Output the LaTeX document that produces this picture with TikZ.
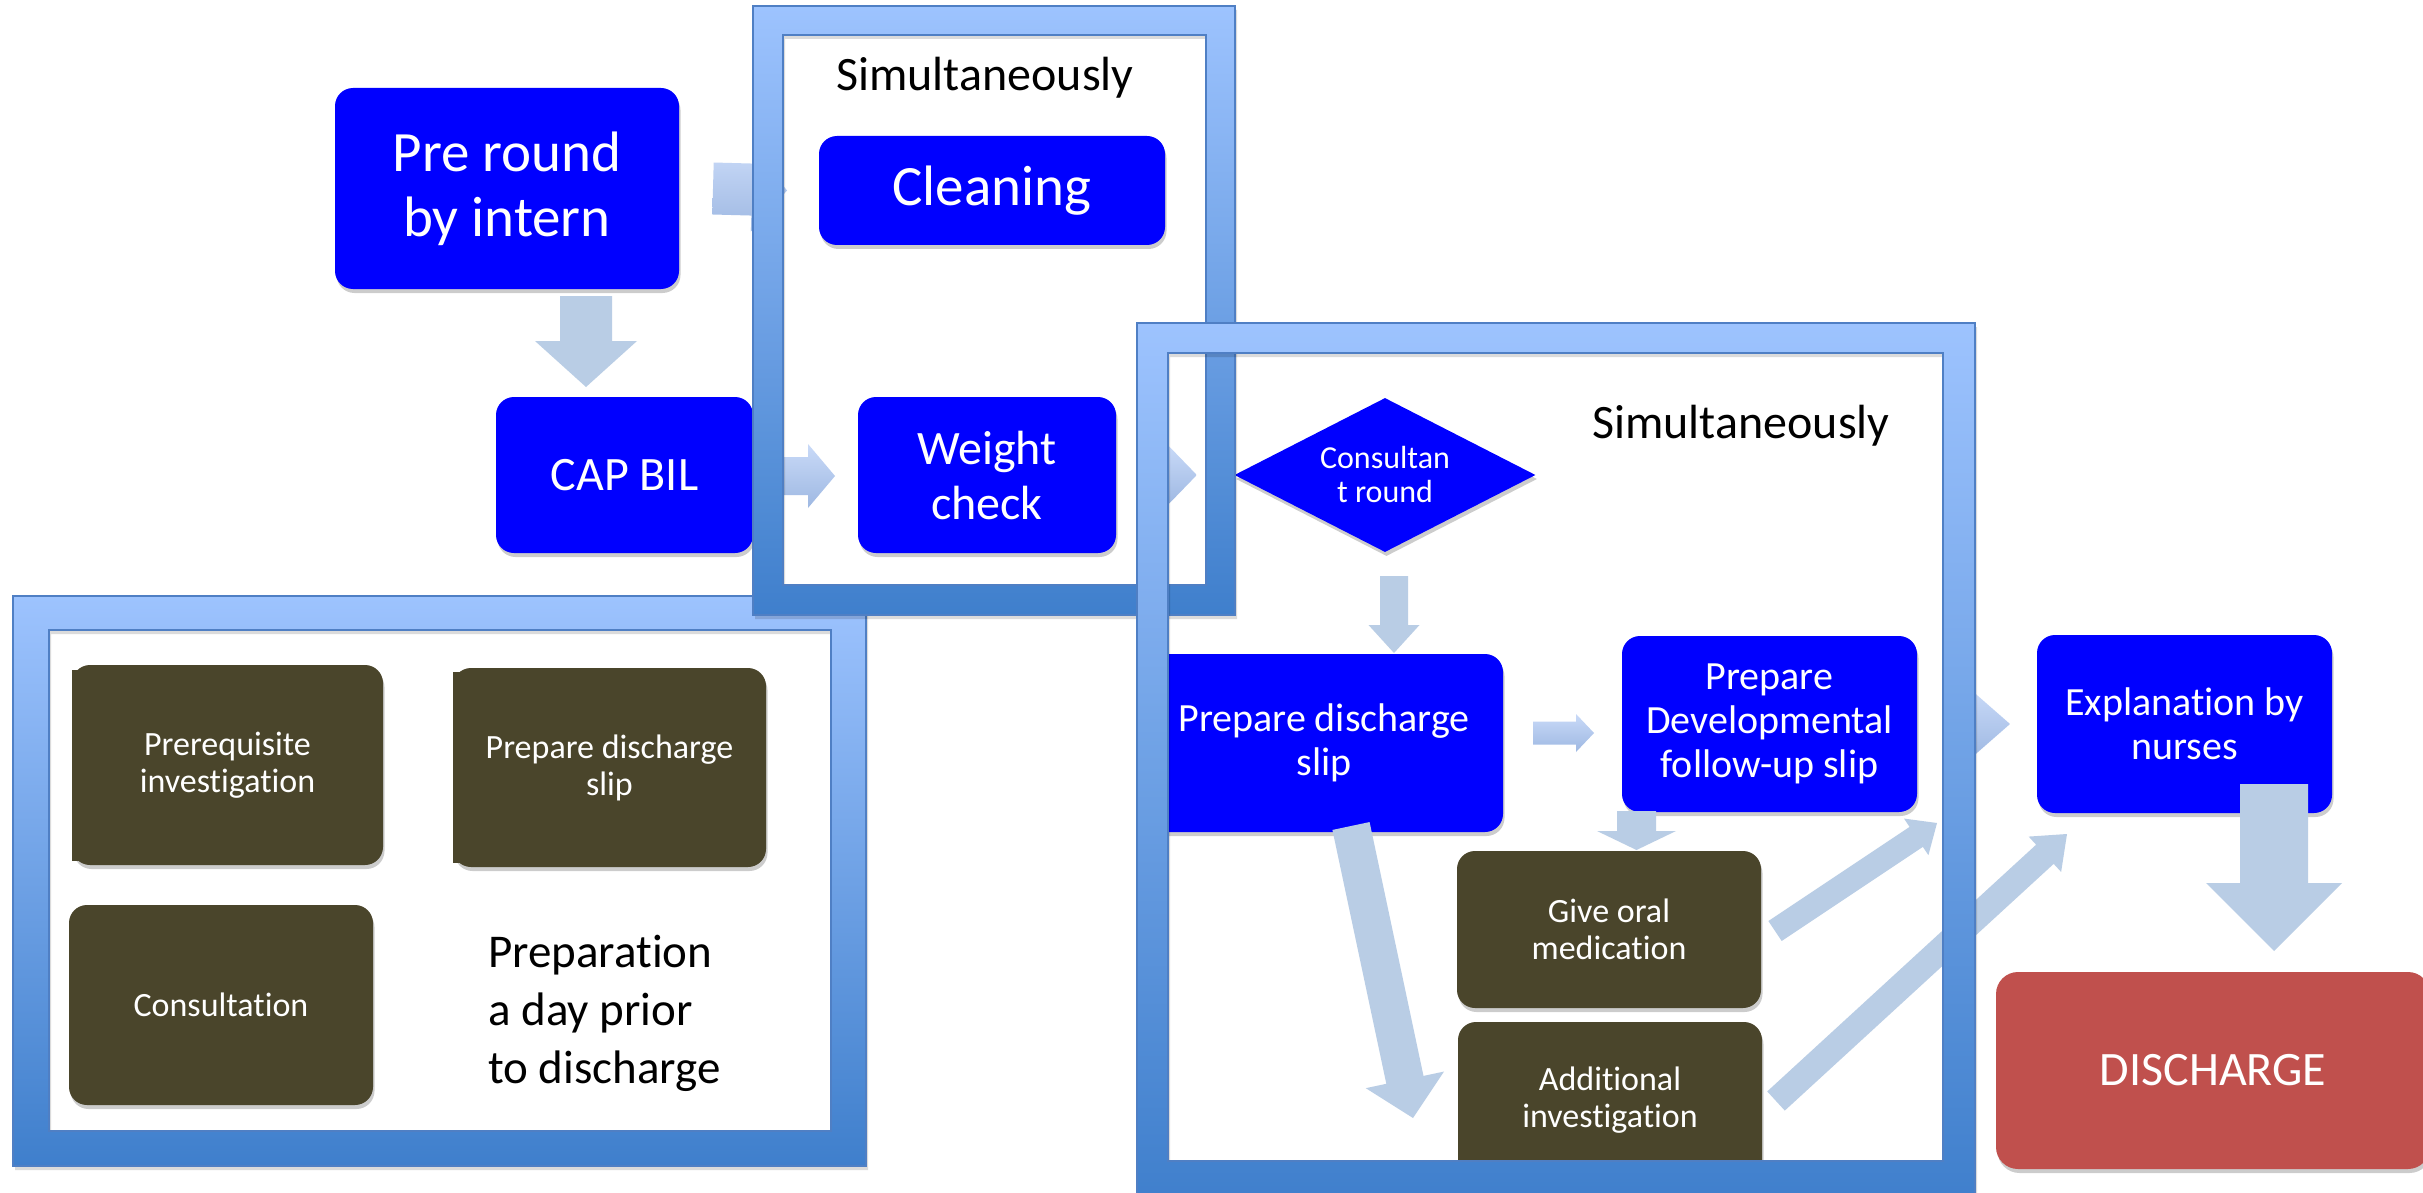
\documentclass[tikz,border=0pt]{standalone}
\usepackage{fontspec}
\setmainfont{Carlito}[Ligatures={NoCommon,NoContextual}]
\usetikzlibrary{calc,shapes.geometric,shadows}

\definecolor{boxblue}{HTML}{0000FF}
\definecolor{boxbrown}{HTML}{4A452B}
\definecolor{boxred}{HTML}{C0504D}
\definecolor{arrowfill}{HTML}{B9CDE5}
\definecolor{arrowtop}{HTML}{C9DAF8}
\definecolor{arrowbot}{HTML}{9EB8E2}
\definecolor{frametop}{HTML}{9DC3FE}
\definecolor{framebot}{HTML}{3F7FCC}
\definecolor{frameedge}{HTML}{4F7FC4}

\tikzset{
  softshadow/.style={drop shadow={shadow xshift=1.5pt, shadow yshift=-4pt, opacity=0.2, fill=black}},
  box/.style={rounded corners=18pt, inner sep=0pt, outer sep=0pt, align=center,
    text=white, anchor=north west, softshadow},
  bluebox/.style={box, fill=boxblue},
  brownbox/.style={box, fill=boxbrown},
  redbox/.style={box, fill=boxred, rounded corners=22pt},
  fbig/.style={font=\fontsize{57}{65}\selectfont},
  fmid/.style={font=\fontsize{48}{55}\selectfont},
  fsmall/.style={font=\fontsize{40}{44}\selectfont},
  fbrown/.style={font=\fontsize{34}{37}\selectfont},
  solidarrow/.style={fill=arrowfill},
  fadearrow/.style={top color=arrowtop, bottom color=arrowbot},
}

% block arrow: #1 fill style, #2 tail, #3 tip, #4 shaft half-width,
% #5 head half-width, #6 head length
\newcommand\blockarrow[6]{%
  \coordinate (ba-h) at ($(#3)!#6!(#2)$);
  \path[#1] ($(#2)!#4!90:(#3)$) -- ($(ba-h)!#4!90:(#3)$) -- ($(ba-h)!#5!90:(#3)$)
    -- (#3) -- ($(ba-h)!#5!-90:(#3)$) -- ($(ba-h)!#4!-90:(#3)$)
    -- ($(#2)!#4!-90:(#3)$) -- cycle;
}

% thick gradient frame: outer x1 y1 x2 y2, inner x1 y1 x2 y2
\newcommand\framering[8]{%
  \fill[black, opacity=0.14, even odd rule, shift={(2,4)}]
    (#1,#2) rectangle (#3,#4) (#5,#6) rectangle (#7,#8);
  \shade[top color=frametop, bottom color=framebot, even odd rule]
    (#1,#2) rectangle (#3,#4) (#5,#6) rectangle (#7,#8);
  \draw[frameedge, line width=1.2pt] (#1,#2) rectangle (#3,#4) (#5,#6) rectangle (#7,#8);
}

\begin{document}
\begin{tikzpicture}[x=1pt, y=-1pt]
\useasboundingbox (0,0) rectangle (2423,1193);
\fill[white] (0,0) rectangle (2423,1193);
\clip (0,0) rectangle (2423,1193);

% day-before preparation frame
\framering{13}{596}{866}{1166}{49}{630}{831}{1131}
\node[brownbox, fbrown, minimum width=311pt, minimum height=200pt] (prereq) at (72,665) {Prerequisite\\investigation};
\fill[boxbrown] ($(prereq.north west)+(0,5)$) rectangle ($(prereq.south west)+(14,-4)$);
\node[brownbox, fbrown, minimum width=313pt, minimum height=199pt] (slipold) at (453,668) {Prepare discharge\\slip};
\fill[boxbrown] ($(slipold.north west)+(0,4)$) rectangle ($(slipold.south west)+(14,-4)$);
\node[brownbox, fbrown, minimum width=304pt, minimum height=200pt] (consultation) at (69,905) {Consultation};
\node[anchor=base west, font=\fontsize{47}{58}\selectfont, inner sep=0pt] (prepnote) at (488,967)
  {\begin{tabular}[t]{@{}l@{}}Preparation\\a day prior\\to discharge\end{tabular}};

% morning steps
\node[bluebox, fbig, minimum width=344pt, minimum height=201pt] (pre) at (335,88) {Pre round\\by intern};
\node[bluebox, fbig, minimum width=346pt, minimum height=109pt] (clean) at (819,136) {Cleaning};
\node[bluebox, fmid, minimum width=257pt, minimum height=156pt] (capbil) at (496,397) {CAP BIL};
\node[bluebox, fmid, minimum width=258pt, minimum height=156pt] (weight) at (858,397) {Weight\\check};
\node[anchor=base, fmid, inner sep=0pt] (simA) at (985,91) {Simultaneously};

% consultant round and discharge steps
\node[diamond, aspect=1.95, fill=boxblue, text=white, align=center, inner sep=0pt,
  minimum width=301pt, minimum height=154pt, softshadow,
  font=\fontsize{32}{34}\selectfont] (consult) at (1385,475) {Consultan\\t round};
\node[anchor=base, fmid, inner sep=0pt] (simB) at (1741,438) {Simultaneously};
\node[bluebox, fsmall, minimum width=358pt, minimum height=178pt] (slip) at (1145,654) {Prepare discharge\\slip};
\node[bluebox, fsmall, minimum width=295pt, minimum height=176pt] (devslip) at (1622,636) {Prepare\\Developmental\\follow-up slip};
\node[bluebox, fsmall, minimum width=295pt, minimum height=178pt] (expl) at (2037,635) {Explanation by\\nurses};
\node[brownbox, fbrown, minimum width=304pt, minimum height=157pt] (oral) at (1457,851) {Give oral\\medication};
\node[brownbox, fbrown, minimum width=304pt, minimum height=157pt] (addinv) at (1458,1022) {Additional\\investigation};
\node[redbox, fmid, minimum width=434pt, minimum height=197pt] (discharge) at (1996,972) {DISCHARGE};

% arrows
\coordinate (a1s) at ($(pre.east)+(34,0)$);
\coordinate (a1e) at ($(clean.west)+(-32,0)$);
\blockarrow{fadearrow}{a1s}{a1e}{26pt}{42pt}{35pt}

\coordinate (a2s) at ($(pre.south)+(79,7)$);
\coordinate (a2e) at ($(capbil.north)+(-38.5,-10)$);
\blockarrow{solidarrow}{a2s}{a2e}{26pt}{51pt}{46pt}

\coordinate (a3s) at ($(capbil.east)+(5,1)$);
\coordinate (a3e) at ($(weight.west)+(-23,1)$);
\blockarrow{fadearrow}{a3s}{a3e}{19pt}{32pt}{27pt}

\coordinate (a4s) at ($(weight.east)+(25,0)$);
\coordinate (a4e) at ($(consult.west)+(-37.5,0)$);
\blockarrow{fadearrow}{a4s}{a4e}{19pt}{31pt}{30pt}

\coordinate (a5s) at ($(consult.south)+(9,24)$);
\coordinate (a5e) at ($(slip.north)+(70,-1)$);
\blockarrow{solidarrow}{a5s}{a5e}{14pt}{25.5pt}{28pt}

\coordinate (a6s) at ($(slip.east)+(30,-10)$);
\coordinate (a6e) at ($(devslip.west)+(-28,9)$);
\blockarrow{fadearrow}{a6s}{a6e}{11.5pt}{19pt}{18pt}

\coordinate (a7s) at ($(slip.south)+(27,-6)$);
\coordinate (a7e) at ($(addinv.west)+(-45,17.5)$);
\blockarrow{solidarrow}{a7s}{a7e}{19pt}{40pt}{39pt}

\coordinate (a8s) at ($(devslip.south)+(-133,-1)$);
\coordinate (a8e) at ($(oral.north)+(27.5,-1)$);
\blockarrow{solidarrow}{a8s}{a8e}{19.5pt}{39.5pt}{19pt}

\coordinate (a9s) at ($(oral.east)+(14,1.5)$);
\coordinate (a9e) at ($(devslip.south east)+(20,11)$);
\blockarrow{solidarrow}{a9s}{a9e}{12pt}{22pt}{25pt}

\coordinate (a10s) at ($(addinv.east)+(14,0.5)$);
\coordinate (a10e) at ($(expl.south west)+(30,21)$);
\blockarrow{solidarrow}{a10s}{a10e}{13pt}{24pt}{30pt}

\coordinate (a11s) at ($(devslip.east)+(30,0)$);
\coordinate (a11e) at ($(expl.west)+(-27,0)$);
\blockarrow{fadearrow}{a11s}{a11e}{22pt}{35pt}{40pt}

\coordinate (a12s) at ($(expl.south)+(89.5,-29)$);
\coordinate (a12e) at ($(discharge.north)+(61,-21)$);
\blockarrow{solidarrow}{a12s}{a12e}{34pt}{68pt}{68pt}

% frames drawn over the arrows
\framering{753}{6}{1235}{615}{783}{35}{1206}{585}
\framering{1137}{323}{1975}{1205}{1168}{353}{1943}{1161}
\end{tikzpicture}
\end{document}
